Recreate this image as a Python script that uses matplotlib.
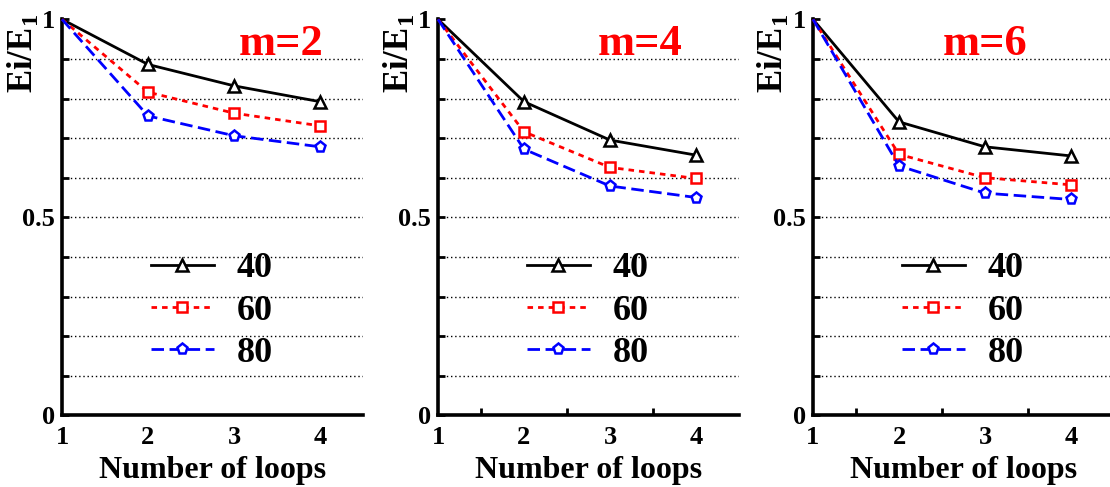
import numpy as np
import matplotlib
matplotlib.use("Agg")
from matplotlib import pyplot as plt

plt.rcParams['font.family'] = ['Liberation Serif', 'DejaVu Serif']
plt.rcParams['font.weight'] = 'bold'
plt.rcParams['mathtext.fontset'] = 'custom'
plt.rcParams['mathtext.rm'] = 'Liberation Serif:bold'
plt.rcParams['mathtext.bf'] = 'Liberation Serif:bold'

loops = [1, 2, 3, 4]
sizes = ["40", "60", "80"]
panel_titles = ["m=2", "m=4", "m=6"]

# Ei/E1 per panel (m=2, m=4, m=6), one list per size 40 / 60 / 80
m2_40 = [1.0, 0.886, 0.832, 0.792]
m2_60 = [1.0, 0.816, 0.763, 0.731]
m2_80 = [1.0, 0.756, 0.706, 0.678]

m4_40 = [1.0, 0.792, 0.695, 0.657]
m4_60 = [1.0, 0.716, 0.626, 0.598]
m4_80 = [1.0, 0.672, 0.579, 0.550]

m6_40 = [1.0, 0.741, 0.678, 0.655]
m6_60 = [1.0, 0.659, 0.600, 0.582]
m6_80 = [1.0, 0.630, 0.561, 0.545]

panels = [
    [m2_40, m2_60, m2_80],
    [m4_40, m4_60, m4_80],
    [m6_40, m6_60, m6_80],
]

styles = [
    dict(color="black", linestyle="-", marker="^", markersize=8),
    dict(color="red", linestyle=(0, (2.0, 1.8)), marker="s", markersize=6.5),
    dict(color="blue", linestyle=(0, (4.5, 2.0)), marker="p", markersize=8),
]

W, H = 1110, 487
fig = plt.figure(figsize=(W / 100, H / 100), dpi=100)

ax_left = [62, 438, 813]
ax_w = 301
top_px, bot_px = 19.3, 415.3
title_x = [0.727, 0.672, 0.572]

for i, series in enumerate(panels):
    ax = fig.add_axes([ax_left[i] / W, (H - bot_px) / H, ax_w / W, (bot_px - top_px) / H])
    ax.set_xlim(1, 4.5)
    ax.set_ylim(0, 1)

    for j, vals in enumerate(series):
        ax.plot(loops, vals, lw=2.0, markerfacecolor="white",
                markeredgewidth=1.8, markevery=[1, 2, 3], label=sizes[j],
                clip_on=False, zorder=3, **styles[j])

    # dotted grid every 0.1
    for g in np.arange(0.1, 0.95, 0.1):
        ax.axhline(g, color="black", linestyle=(0, (1, 2)), lw=1.0, zorder=1)

    for s in ["top", "right"]:
        ax.spines[s].set_visible(False)
    for s in ["left", "bottom"]:
        ax.spines[s].set_linewidth(2.6)

    ax.set_xticks(loops)
    ax.set_yticks([0, 0.5, 1])
    ax.set_yticklabels(["0", "0.5", "1"])
    ax.set_yticks(np.arange(0.1, 1.0, 0.1), minor=True)
    ax.tick_params(axis="y", which="both", direction="in", length=5, width=2, labelsize=19, pad=5)
    ax.tick_params(axis="x", which="major", length=0, labelsize=19, pad=8)
    if i > 0:
        ax.set_xticks([1.5, 2.5, 3.5], minor=True)
        ax.tick_params(axis="x", which="minor", direction="in", length=5, width=2)
    for lab in ax.get_xticklabels() + ax.get_yticklabels():
        lab.set_fontweight("bold")

    ax.set_xlabel("Number of loops", fontsize=23, fontweight="bold", labelpad=5)
    ax.text(-40 / ax_w, 1.012, r"Ei/E$_{1}$", rotation=90, ha="center", va="top",
            fontsize=25, fontweight="bold", transform=ax.transAxes)
    ax.text(title_x[i], 0.937, panel_titles[i], color="red", fontsize=32,
            fontweight="bold", ha="center", va="center", transform=ax.transAxes)

    ax.legend(loc="center left", bbox_to_anchor=(0.295, 0.263), frameon=False,
              handlelength=1.75, handletextpad=0.62, labelspacing=0.25,
              borderpad=0, borderaxespad=0, prop={"weight": "bold", "size": 26})

fig.savefig("out.png", dpi=100)
